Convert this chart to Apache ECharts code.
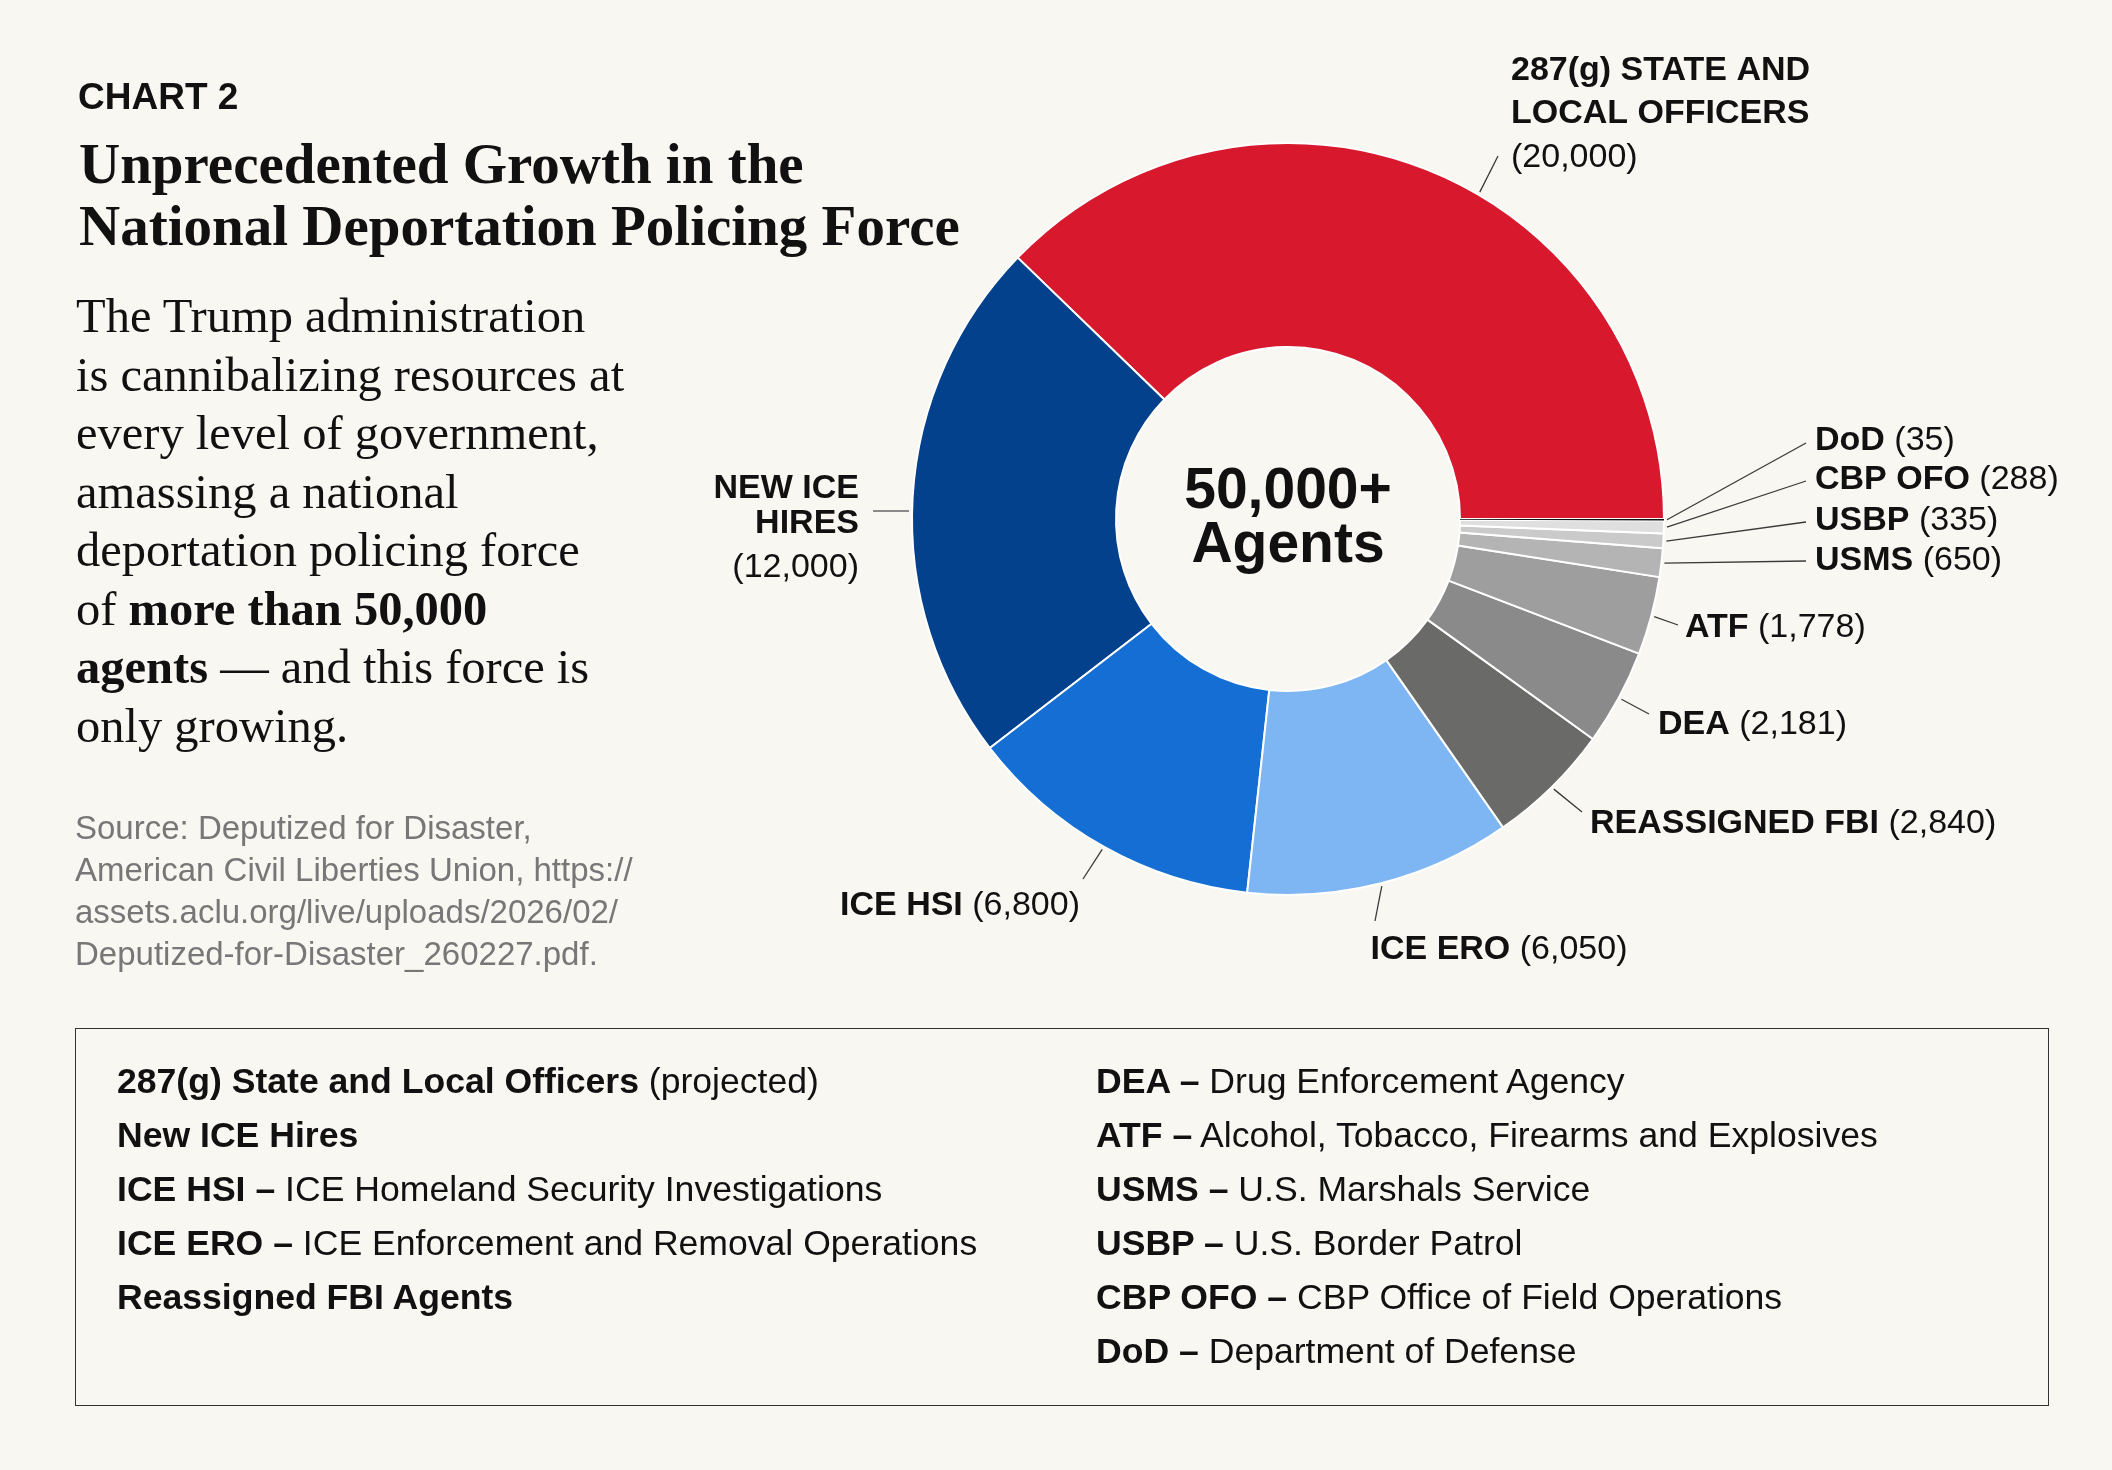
<!DOCTYPE html>
<html lang="en">
<head>
    <meta charset="UTF-8">
    <title>Chart 2 - National Deportation Policing Force</title>
    <script src="https://cdn.jsdelivr.net/npm/echarts@6/dist/echarts.min.js"></script>
    <style>
        html, body { margin: 0; padding: 0; background: #f9f7f1; }
        #page { position: relative; width: 2112px; height: 1470px; overflow: hidden; }
        #chart { position: absolute; left: 0; top: 0; width: 2112px; height: 1470px; }
        .txt { position: absolute; color: #111; white-space: nowrap; z-index: 2; }
        .sans { font-family: "Liberation Sans", Arial, sans-serif; }
        .serif { font-family: "Liberation Serif", "Times New Roman", serif; }
        #kicker { left: 78px; top: 77px; font-size: 37px; line-height: 40px; font-weight: bold; }
        #title { left: 79px; top: 133px; font-size: 57px; line-height: 62px; font-weight: bold; }
        #lede { left: 76px; top: 287px; font-size: 48.5px; line-height: 58.5px; }
        #source { left: 75px; top: 807px; font-size: 33px; line-height: 42px; color: #777; }
        #keybox { position: absolute; left: 75px; top: 1028px; width: 1974px; height: 378px;
                  box-sizing: border-box; border: 1.5px solid #333; z-index: 2; }
        .keycol { position: absolute; top: 25px; font-size: 35.6px; line-height: 54px; color: #111; white-space: nowrap; }
        #keyleft { left: 41px; }
        #keyright { left: 1020px; }
    </style>
</head>
<body>
<div id="page">
    <div id="chart"></div>

    <div id="kicker" class="txt sans">CHART 2</div>
    <div id="title" class="txt serif">Unprecedented Growth in the<br>National Deportation Policing Force</div>
    <div id="lede" class="txt serif">The Trump administration<br>is cannibalizing resources at<br>every level of government,<br>amassing a national<br>deportation policing force<br>of <b>more than 50,000</b><br><b>agents</b> — and this force is<br>only growing.</div>
    <div id="source" class="txt sans">Source: Deputized for Disaster,<br>American Civil Liberties Union, https://<br>assets.aclu.org/live/uploads/2026/02/<br>Deputized-for-Disaster_260227.pdf.</div>

    <div id="keybox">
        <div id="keyleft" class="keycol sans">
            <b>287(g) State and Local Officers</b> (projected)<br>
            <b>New ICE Hires</b><br>
            <b>ICE HSI –</b> ICE Homeland Security Investigations<br>
            <b>ICE ERO –</b> ICE Enforcement and Removal Operations<br>
            <b>Reassigned FBI Agents</b>
        </div>
        <div id="keyright" class="keycol sans">
            <b>DEA –</b> Drug Enforcement Agency<br>
            <b>ATF –</b> Alcohol, Tobacco, Firearms and Explosives<br>
            <b>USMS –</b> U.S. Marshals Service<br>
            <b>USBP –</b> U.S. Border Patrol<br>
            <b>CBP OFO –</b> CBP Office of Field Operations<br>
            <b>DoD –</b> Department of Defense
        </div>
    </div>
</div>

<script type="text/javascript">
    // data, counter-clockwise from 3 o'clock
    var agencies = ['287(g) State and Local Officers', 'New ICE Hires', 'ICE HSI', 'ICE ERO',
        'Reassigned FBI', 'DEA', 'ATF', 'USMS', 'USBP', 'CBP OFO', 'DoD'];
    var labelNames = ['287(g) STATE AND\nLOCAL OFFICERS', 'NEW ICE\nHIRES', 'ICE HSI', 'ICE ERO',
        'REASSIGNED FBI', 'DEA', 'ATF', 'USMS', 'USBP', 'CBP OFO', 'DoD'];
    var agents = [20000, 12000, 6800, 6050, 2840, 2181, 1778, 650, 335, 288, 35];
    var centerText = '50,000+\nAgents';

    // styling / layout
    var sliceColors = ['#d8192d', '#03418c', '#146ed3', '#7eb5f3', '#6a6a69', '#8a8a8a',
        '#9e9e9e', '#b4b4b4', '#cacaca', '#dfdfdf', '#111111'];
    var CX = 1288, CY = 519, R0 = 172, R1 = 376;
    // label anchor: x, y, align, verticalAlign
    var labelSpots = [
        [1511, 49, 'left', 'top'],
        [859, 471, 'right', 'top'],
        [960, 906, 'center', 'middle'],
        [1499, 950, 'center', 'middle'],
        [1590, 824, 'left', 'middle'],
        [1658, 725, 'left', 'middle'],
        [1685, 628, 'left', 'middle'],
        [1815, 561, 'left', 'middle'],
        [1815, 521, 'left', 'middle'],
        [1815, 480, 'left', 'middle'],
        [1815, 441, 'left', 'middle']
    ];
    // where each leader line stops, next to its label
    var leaderEnds = [
        [1498, 156], [873, 511], [1083, 879], [1375, 921], [1582, 812], [1649, 714],
        [1678, 625], [1806, 561], [1806, 522], [1806, 481], [1806, 443]
    ];
    // leader start angle override (screen degrees), null = slice middle
    var leaderAngles = [-59.6, 181.2, null, null, null, null, null, null, null, null, null];

    var labelFont = '"Liberation Sans", Arial, sans-serif';
    var labelSize = 34;

    function fmt(n) {
        return '(' + n.toLocaleString('en-US') + ')';
    }

    var pieData = agents.map(function (v, i) {
        var item = {
            name: agencies[i],
            value: v,
            itemStyle: { color: sliceColors[i] }
        };
        if (i === 1) {
            item.labelLine = { lineStyle: { color: '#8a8a8a', width: 2 } };
        }
        // thinnest slice: no white border or it disappears
        if (i === agents.length - 1) {
            item.itemStyle.borderWidth = 0;
        }
        return item;
    });

    var chart = echarts.init(document.getElementById('chart'));
    chart.setOption({
        animation: false,
        graphic: [{
            type: 'text',
            x: CX,
            y: CY,
            z: 10,
            style: {
                text: centerText,
                align: 'center',
                verticalAlign: 'middle',
                fontFamily: labelFont,
                fontWeight: 'bold',
                fontSize: 57,
                lineHeight: 54,
                fill: '#111'
            }
        }],
        series: [{
            type: 'pie',
            center: [CX, CY],
            radius: [R0, R1],
            startAngle: 0,
            clockwise: false,
            avoidLabelOverlap: false,
            silent: true,
            itemStyle: { borderColor: '#ffffff', borderWidth: 2 },
            label: {
                show: true,
                position: 'outside',
                color: '#111',
                fontFamily: labelFont,
                fontSize: labelSize,
                formatter: function (p) {
                    var i = p.dataIndex;
                    var lines = labelNames[i].split('\n');
                    if (lines.length > 1) {
                        var k = i === 1 ? 't' : 'w';
                        return lines.map(function (l) { return '{b' + k + '|' + l + '}'; }).join('\n') +
                            '\n{n' + k + '|' + fmt(p.value) + '}';
                    }
                    return '{b|' + lines[0] + ' }{n|' + fmt(p.value) + '}';
                },
                rich: {
                    b: { fontFamily: labelFont, fontSize: labelSize, fontWeight: 'bold', color: '#111' },
                    n: { fontFamily: labelFont, fontSize: labelSize, color: '#111' },
                    bw: { fontFamily: labelFont, fontSize: labelSize, fontWeight: 'bold', color: '#111', lineHeight: 43 },
                    nw: { fontFamily: labelFont, fontSize: labelSize, color: '#111', lineHeight: 46 },
                    bt: { fontFamily: labelFont, fontSize: labelSize, fontWeight: 'bold', color: '#111', lineHeight: 35, align: 'right' },
                    nt: { fontFamily: labelFont, fontSize: labelSize, color: '#111', lineHeight: 54, align: 'right' }
                }
            },
            labelLine: {
                show: true,
                length: 10,
                length2: 10,
                lineStyle: { color: '#3a3a3a', width: 1.3 }
            },
            labelLayout: function (params) {
                var i = params.dataIndex;
                var spot = labelSpots[i];
                var end = leaderEnds[i];
                var start;
                if (leaderAngles[i] != null) {
                    var a = leaderAngles[i] * Math.PI / 180;
                    start = [CX + (R1 + 3) * Math.cos(a), CY + (R1 + 3) * Math.sin(a)];
                } else if (params.labelLinePoints) {
                    var p0 = params.labelLinePoints[0];
                    var dx = p0[0] - CX, dy = p0[1] - CY;
                    var len = Math.sqrt(dx * dx + dy * dy) || 1;
                    start = [CX + dx * (len + 3) / len, CY + dy * (len + 3) / len];
                } else {
                    start = end;
                }
                return {
                    x: spot[0],
                    y: spot[1],
                    align: spot[2],
                    verticalAlign: spot[3],
                    labelLinePoints: [start, end, end]
                };
            },
            emphasis: { disabled: true },
            data: pieData
        }]
    });
</script>
</body>
</html>
